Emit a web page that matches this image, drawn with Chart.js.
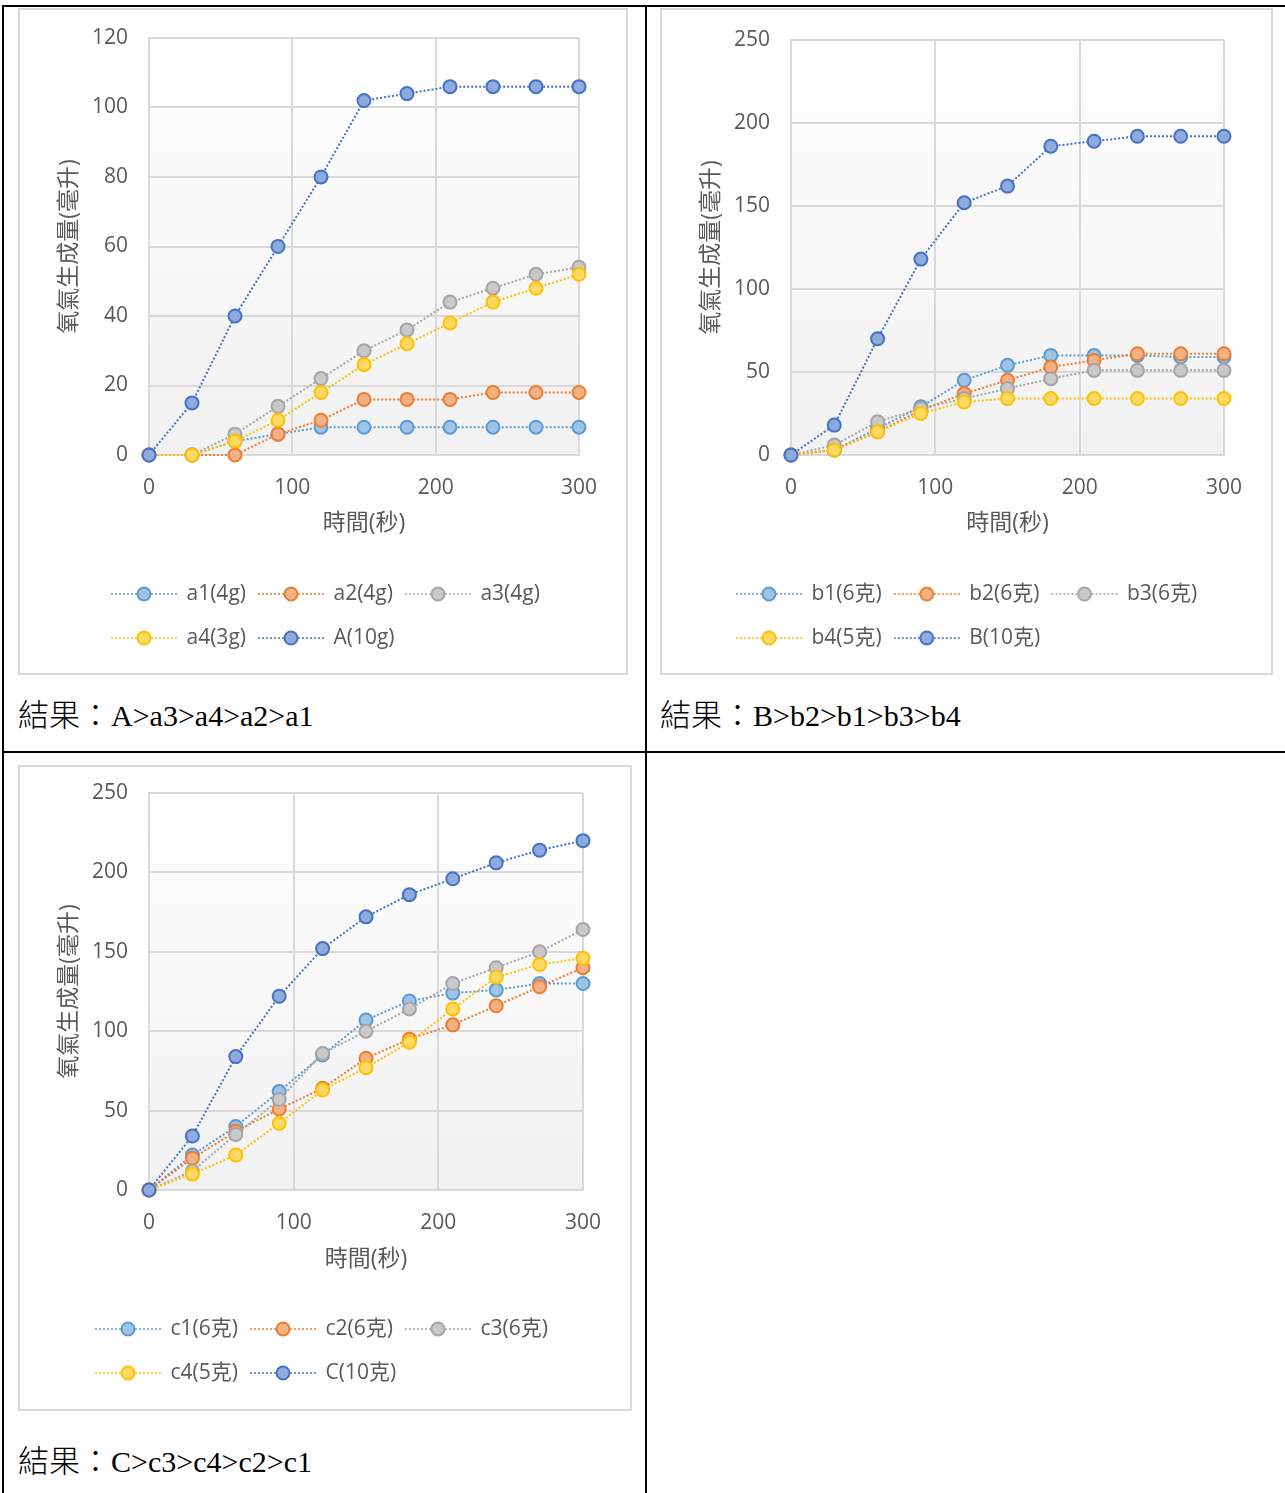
<!DOCTYPE html>
<html>
<head>
<meta charset="utf-8">
<script src="https://cdn.jsdelivr.net/npm/chart.js@4.4.0/dist/chart.umd.min.js"></script>
<style>
  body { margin: 0; background: #fff; }
  #page { position: relative; width: 1285px; height: 1493px; overflow: hidden; }
  .rule { position: absolute; background: #000; }
  .box { position: absolute; border: 2px solid #d9d9d9; box-sizing: border-box; }
  .box canvas { position: absolute; left: 0; top: 0; }
  .result {
    position: absolute; white-space: nowrap; color: #000;
    font-family: "Liberation Serif", serif;
    font-size: 30px; line-height: 30px;
  }
  .result .cjk { font-family: "Noto Sans CJK TC", sans-serif; font-size: 31px; font-weight: 300; }
</style>
</head>
<body>
<div id="page">
  <div class="rule" style="left:2px;top:5px;width:1283px;height:2px"></div>
  <div class="rule" style="left:2px;top:5px;width:2px;height:1488px"></div>
  <div class="rule" style="left:645px;top:5px;width:2px;height:1488px"></div>
  <div class="rule" style="left:2px;top:751px;width:1283px;height:2px"></div>

  <div class="box" style="left:18px;top:8px;width:610px;height:667px"><canvas id="chartA" width="606" height="663"></canvas></div>
  <div class="box" style="left:660px;top:8px;width:613px;height:667px"><canvas id="chartB" width="609" height="663"></canvas></div>
  <div class="box" style="left:18px;top:765px;width:614px;height:646px"><canvas id="chartC" width="610" height="642"></canvas></div>

  <div class="result" style="left:18px;top:698px"><span class="cjk">結果：</span>A&gt;a3&gt;a4&gt;a2&gt;a1</div>
  <div class="result" style="left:660px;top:698px"><span class="cjk">結果：</span>B&gt;b2&gt;b1&gt;b3&gt;b4</div>
  <div class="result" style="left:18px;top:1444px"><span class="cjk">結果：</span>C&gt;c3&gt;c4&gt;c2&gt;c1</div>
</div>

<script>
// time axis (seconds)
const times = [0, 30, 60, 90, 120, 150, 180, 210, 240, 270, 300];

// chart A (mL)
const labelsA = ["a1(4g)", "a2(4g)", "a3(4g)", "a4(3g)", "A(10g)"];
const a1 = [0, 0, 4, 6, 8, 8, 8, 8, 8, 8, 8];
const a2 = [0, 0, 0, 6, 10, 16, 16, 16, 18, 18, 18];
const a3 = [0, 0, 6, 14, 22, 30, 36, 44, 48, 52, 54];
const a4 = [0, 0, 4, 10, 18, 26, 32, 38, 44, 48, 52];
const bigA = [0, 15, 40, 60, 80, 102, 104, 106, 106, 106, 106];

// chart B
const labelsB = ["b1(6克)", "b2(6克)", "b3(6克)", "b4(5克)", "B(10克)"];
const b1 = [0, 3, 16, 29, 45, 54, 60, 60, 60, 59, 59];
const b2 = [0, 3, 14, 27, 37, 45, 53, 57, 61, 61, 61];
const b3 = [0, 6, 20, 28, 34, 40, 46, 51, 51, 51, 51];
const b4 = [0, 3, 14, 25, 32, 34, 34, 34, 34, 34, 34];
const bigB = [0, 18, 70, 118, 152, 162, 186, 189, 192, 192, 192];

// chart C
const labelsC = ["c1(6克)", "c2(6克)", "c3(6克)", "c4(5克)", "C(10克)"];
const c1 = [0, 22, 40, 62, 85, 107, 119, 124, 126, 130, 130];
const c2 = [0, 20, 37, 51, 64, 83, 95, 104, 116, 128, 140];
const c3 = [0, 12, 35, 57, 86, 100, 114, 130, 140, 150, 164];
const c4 = [0, 10, 22, 42, 63, 77, 93, 114, 134, 142, 146];
const bigC = [0, 34, 84, 122, 152, 172, 186, 196, 206, 214, 220];

const xTicks = { min: 0, max: 300, step: 100 };
const yTicksA = { min: 0, max: 120, step: 20 };
const yTicksBC = { min: 0, max: 250, step: 50 };

const xTitle = "時間(秒)";
const yTitle = "氧氣生成量(毫升)";

const lineColors = ["#5b9bd5", "#ed7d31", "#a5a5a5", "#ffc000", "#4472c4"];
const fillColors = ["#9dc3e6", "#f4b183", "#c9c9c9", "#ffd966", "#8faadc"];

const FONT = '"Open Sans", "Noto Sans CJK TC", sans-serif';
const TEXT = "#595959";
const GRID = "#d9d9d9";
const LEGEND_SIZE = 21;
const LEGEND_PAD = 23;

function markerIcon(line, fill) {
  const c = document.createElement("canvas");
  c.width = 76;
  c.height = 16;
  const g = c.getContext("2d");
  g.strokeStyle = line;
  g.lineWidth = 1.5;
  g.setLineDash([2, 2]);
  g.beginPath();
  g.moveTo(0, 8);
  g.lineTo(66, 8);
  g.stroke();
  g.setLineDash([]);
  g.beginPath();
  g.arc(33, 8, 6.5, 0, Math.PI * 2);
  g.fillStyle = fill;
  g.fill();
  g.lineWidth = 2;
  g.stroke();
  return c;
}
const icons = lineColors.map((c, i) => markerIcon(c, fillColors[i]));

const plotBg = {
  id: "plotBg",
  beforeDraw(chart) {
    const { ctx, chartArea: a } = chart;
    const grad = ctx.createLinearGradient(0, a.top, 0, a.bottom);
    grad.addColorStop(0, "#ffffff");
    grad.addColorStop(1, "#f1f1f1");
    ctx.save();
    ctx.fillStyle = grad;
    ctx.fillRect(a.left, a.top, a.width, a.height);
    ctx.restore();
  },
};

function makeChart(id, box, labels, series, yt) {
  const canvas = document.getElementById(id);
  const datasets = series.map((vals, i) => ({
    label: labels[i],
    data: times.map((t, k) => ({ x: t, y: vals[k] })),
    borderColor: lineColors[i],
    backgroundColor: fillColors[i],
    pointBackgroundColor: fillColors[i],
    pointBorderColor: lineColors[i],
    pointRadius: 6.5,
    pointBorderWidth: 2,
    borderWidth: 2,
    borderDash: [2, 2],
    tension: 0,
    clip: false,
    order: 10 - i,
  }));

  const legendPlace = {
    id: "legendPlace",
    afterLayout(chart) {
      const lg = chart.legend;
      if (!lg) return;
      lg.left = box.legendX + 11 - LEGEND_PAD;
      lg.top = chart.chartArea.bottom + 139 - LEGEND_PAD - LEGEND_SIZE / 2;
    },
  };

  return new Chart(canvas, {
    type: "line",
    data: { datasets },
    plugins: [plotBg, legendPlace],
    options: {
      responsive: false,
      animation: false,
      events: [],
      layout: {
        padding: { left: 0, top: box.plotTop, right: canvas.width - box.plotRight, bottom: 0 },
      },
      scales: {
        x: {
          type: "linear",
          min: xTicks.min,
          max: xTicks.max,
          afterFit: (s) => {
            const lh = s.chart.legend ? s.chart.legend.height : 98;
            s.height = s.chart.height - box.plotBottom - lh;
          },
          ticks: { stepSize: xTicks.step, color: TEXT, font: { family: FONT, size: 21 }, padding: 20, maxRotation: 0 },
          grid: { color: GRID, lineWidth: 2, drawTicks: false },
          border: { color: GRID, width: 2 },
          title: {
            display: true, text: xTitle, color: TEXT,
            font: { family: FONT, size: 23 }, padding: { top: 0, bottom: 38 },
          },
        },
        y: {
          min: yt.min,
          max: yt.max,
          afterFit: (s) => { s.width = box.plotLeft; },
          ticks: { stepSize: yt.step, color: TEXT, font: { family: FONT, size: 21 }, padding: 3 },
          grid: { color: GRID, lineWidth: 2, drawTicks: true, tickLength: 18, tickColor: "rgba(0,0,0,0)" },
          border: { color: GRID, width: 2 },
          title: {
            display: true, text: yTitle, color: TEXT,
            font: { family: FONT, size: 23 }, padding: { top: 36, bottom: 0 },
          },
        },
      },
      plugins: {
        tooltip: { enabled: false },
        legend: {
          position: "bottom",
          align: "start",
          labels: {
            usePointStyle: true,
            pointStyleWidth: 54,
            padding: LEGEND_PAD,
            color: TEXT,
            font: { family: FONT, size: LEGEND_SIZE },
            sort: (a, b) => a.datasetIndex - b.datasetIndex,
            generateLabels(chart) {
              const items = Chart.defaults.plugins.legend.labels.generateLabels(chart);
              items.forEach((it) => { it.pointStyle = icons[it.datasetIndex]; });
              return items;
            },
          },
        },
      },
    },
  });
}

makeChart("chartA", { plotLeft: 129, plotTop: 28, plotRight: 559, plotBottom: 445, legendX: 91 },
  labelsA, [a1, a2, a3, a4, bigA], yTicksA);
makeChart("chartB", { plotLeft: 129, plotTop: 30, plotRight: 562, plotBottom: 445, legendX: 74 },
  labelsB, [b1, b2, b3, b4, bigB], yTicksBC);
makeChart("chartC", { plotLeft: 129, plotTop: 26, plotRight: 563, plotBottom: 423, legendX: 75 },
  labelsC, [c1, c2, c3, c4, bigC], yTicksBC);
</script>
</body>
</html>
